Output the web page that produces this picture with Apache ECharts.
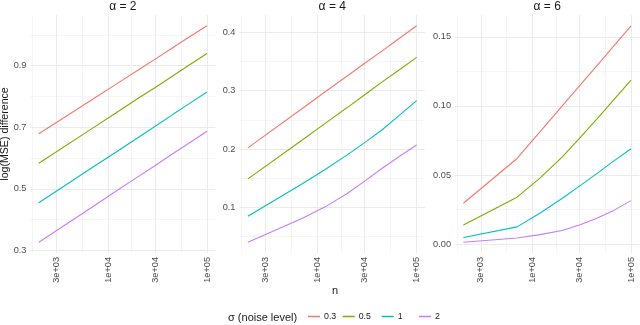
<!DOCTYPE html>
<html>
<head>
<meta charset="utf-8">
<script src="https://cdn.jsdelivr.net/npm/echarts@6/dist/echarts.min.js"></script>
<style>
  html, body { margin: 0; padding: 0; background: #fff; }
  #chart { width: 640px; height: 325px; }
</style>
</head>
<body>
<div id="chart"></div>
<script>
// sample sizes (x, log scale)
var nValues = [2000, 7000, 12000, 20000, 30000, 45000, 65000, 100000];
var sigmaNames = ["0.3", "0.5", "1", "2"];
var panelTitles = ["\u03b1 = 2", "\u03b1 = 4", "\u03b1 = 6"];

// log(MSE) difference, one array per sigma, per alpha
var alpha2 = [
  [0.679, 0.791, 0.839, 0.885, 0.921, 0.958, 0.991, 1.029],
  [0.583, 0.697, 0.746, 0.793, 0.829, 0.866, 0.900, 0.939],
  [0.455, 0.570, 0.619, 0.666, 0.703, 0.741, 0.775, 0.814],
  [0.327, 0.442, 0.492, 0.539, 0.576, 0.614, 0.647, 0.687]
];
var alpha4 = [
  [0.202, 0.269, 0.298, 0.325, 0.347, 0.368, 0.388, 0.411],
  [0.149, 0.215, 0.244, 0.271, 0.293, 0.315, 0.334, 0.357],
  [0.085, 0.140, 0.165, 0.190, 0.211, 0.233, 0.256, 0.283],
  [0.0405, 0.081, 0.101, 0.124, 0.145, 0.167, 0.186, 0.207]
];
var alpha6 = [
  [0.0296, 0.062, 0.0814, 0.0999, 0.1145, 0.129, 0.1424, 0.158],
  [0.0139, 0.034, 0.048, 0.063, 0.0766, 0.0905, 0.1035, 0.1187],
  [0.0048, 0.0125, 0.0225, 0.033, 0.042, 0.051, 0.0595, 0.069],
  [0.0014, 0.0045, 0.0069, 0.0099, 0.0139, 0.0187, 0.0239, 0.0315]
];

// tick values
var xMajor = [3000, 10000, 30000, 100000];
var xMinor = [1732, 5477, 17321, 54772];
var yMajor = [[0.3, 0.5, 0.7, 0.9], [0.1, 0.2, 0.3, 0.4], [0, 0.05, 0.1, 0.15]];
var yMinor = [[0.4, 0.6, 0.8, 1.0], [0.05, 0.15, 0.25, 0.35], [0.025, 0.075, 0.125]];
var yRange = [[0.2919, 1.0641], [0.022, 0.4295], [-0.0064, 0.1658]];
var yDigits = [1, 1, 2];

var colors = ["#F8766D", "#7CAE00", "#00BFC4", "#C77CFF"];
var font = "'Liberation Sans', Arial, sans-serif";
var grids = [
  { left: 30.4, top: 15, width: 185, height: 238 },
  { left: 239.4, top: 15, width: 185.7, height: 238 },
  { left: 455, top: 15, width: 184.4, height: 238 }
];
var panelData = [alpha2, alpha4, alpha6];

function sci(v) {
  var e = Math.floor(Math.log10(v) + 1e-9);
  var m = Math.round(v / Math.pow(10, e));
  return m + "e+" + (e < 10 ? "0" + e : e);
}

var xAxes = [], yAxes = [], series = [], graphics = [];
grids.forEach(function (g, i) {
  g.outerBoundsMode = "none";
  g.containLabel = false;
  xAxes.push({
    type: "log", gridIndex: i, min: 1644.5, max: 121600,
    axisLine: { show: false },
    axisTick: { show: false, customValues: xMajor },
    axisLabel: {
      customValues: xMajor, rotate: 90, margin: 4,
      fontSize: 9.2, color: "#4D4D4D", fontFamily: font,
      formatter: function (v) { return sci(v); }
    },
    splitLine: { show: true, lineStyle: { color: "#EBEBEB", width: 1 } }
  });
  yAxes.push({
    type: "value", gridIndex: i, min: yRange[i][0], max: yRange[i][1],
    axisLine: { show: false },
    axisTick: { show: false, customValues: yMajor[i] },
    axisLabel: {
      customValues: yMajor[i], margin: 4,
      fontSize: 9.2, color: "#4D4D4D", fontFamily: font,
      formatter: function (v) { return Number(v).toFixed(yDigits[i]); }
    },
    splitLine: { show: true, lineStyle: { color: "#EBEBEB", width: 1 } }
  });
  graphics.push({
    type: "text", x: g.left + g.width / 2, y: 7,
    style: { text: panelTitles[i], fontSize: 12, fontFamily: font, fill: "#1A1A1A",
             textAlign: "center", textVerticalAlign: "middle" }
  });
  panelData[i].forEach(function (vals, j) {
    series.push({
      type: "line", name: sigmaNames[j], xAxisIndex: i, yAxisIndex: i,
      data: nValues.map(function (n, k) { return [n, vals[k]]; }),
      showSymbol: false, silent: true,
      lineStyle: { width: 1.1, color: colors[j] },
      itemStyle: { color: colors[j] }
    });
  });
});
// minor grid lines on secondary axes
grids.forEach(function (g, i) {
  xAxes.push({
    type: "log", gridIndex: i, min: 1644.5, max: 121600, position: "top",
    axisLine: { show: false },
    axisTick: { show: false, customValues: xMinor },
    axisLabel: { show: false, customValues: xMinor },
    splitLine: { show: true, lineStyle: { color: "#EBEBEB", width: 0.5 } }
  });
  yAxes.push({
    type: "value", gridIndex: i, min: yRange[i][0], max: yRange[i][1], position: "right",
    axisLine: { show: false },
    axisTick: { show: false, customValues: yMinor[i] },
    axisLabel: { show: false, customValues: yMinor[i] },
    splitLine: { show: true, lineStyle: { color: "#EBEBEB", width: 0.5 } }
  });
});

graphics.push({
  type: "text", x: 5.5, y: 134, rotation: Math.PI / 2,
  style: { text: "log(MSE) difference", fontSize: 10.6, fontFamily: font, fill: "#1A1A1A",
           textAlign: "center", textVerticalAlign: "middle" }
});
graphics.push({
  type: "text", x: 335, y: 291,
  style: { text: "n", fontSize: 11, fontFamily: font, fill: "#1A1A1A",
           textAlign: "center", textVerticalAlign: "middle" }
});
graphics.push({
  type: "text", x: 228, y: 318,
  style: { text: "\u03c3 (noise level)", fontSize: 11, fontFamily: font, fill: "#1A1A1A",
           textAlign: "left", textVerticalAlign: "middle" }
});

var legendLeft = [308, 342.7, 381.7, 419];
var legends = sigmaNames.map(function (name, j) {
  return {
    data: [name], left: legendLeft[j], top: 312, padding: 0,
    icon: "rect", itemWidth: 12, itemHeight: 1.5, itemGap: 0,
    textStyle: { fontSize: 8.8, color: "#1A1A1A", fontFamily: font, padding: [0, 0, 0, -1] },
    selectedMode: false
  };
});

var chart = echarts.init(document.getElementById("chart"));
chart.setOption({
  animation: false,
  backgroundColor: "#fff",
  grid: grids,
  xAxis: xAxes,
  yAxis: yAxes,
  legend: legends,
  graphic: graphics,
  series: series
});
</script>
</body>
</html>
